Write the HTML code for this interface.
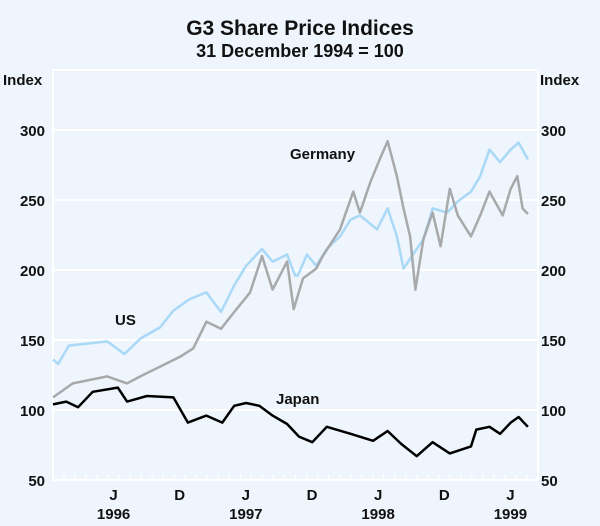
<!DOCTYPE html>
<html><head><meta charset="utf-8"><style>
body{margin:0;background:#eef5fc;}
svg{display:block;font-family:"Liberation Sans",sans-serif;}
</style></head><body>
<svg id="chart" width="600" height="526" viewBox="0 0 600 526">
<rect width="600" height="526" fill="#eef5fc"/>
<text x="300" y="35" text-anchor="middle" font-size="21" font-weight="bold" fill="#111">G3 Share Price Indices</text>
<text x="300" y="57" text-anchor="middle" font-size="18" font-weight="bold" fill="#111">31 December 1994 = 100</text>
<text x="3" y="85" font-size="15" font-weight="bold" fill="#111">Index</text>
<text x="540" y="85" font-size="15" font-weight="bold" fill="#111">Index</text>
<rect x="53" y="70" width="485" height="410" fill="#eef5fc" stroke="#fff" stroke-width="2"/>
<g id="grid"></g><g id="ticks"></g><g id="series"></g><g id="labels"></g>
<text x="290" y="159" font-size="15" font-weight="bold" fill="#111">Germany</text>
<text x="115" y="325" font-size="15" font-weight="bold" fill="#111">US</text>
<text x="276" y="404" font-size="15" font-weight="bold" fill="#111">Japan</text>
</svg>
<script>
const yTicks=[50,100,150,200,250,300];
const xLabels=[{t:1996.458,m:"J",y:"1996"},{t:1996.958,m:"D",y:""},{t:1997.458,m:"J",y:"1997"},{t:1997.958,m:"D",y:""},{t:1998.458,m:"J",y:"1998"},{t:1998.958,m:"D",y:""},{t:1999.458,m:"J",y:"1999"}];
const usDates=[1996.00,1996.04,1996.12,1996.41,1996.54,1996.66,1996.81,1996.91,1997.03,1997.16,1997.27,1997.37,1997.46,1997.58,1997.66,1997.77,1997.83,1997.85,1997.92,1997.99,1998.07,1998.17,1998.25,1998.32,1998.45,1998.53,1998.60,1998.65,1998.70,1998.80,1998.87,1998.98,1999.06,1999.16,1999.23,1999.30,1999.38,1999.46,1999.52,1999.59];
const usVals=[136,133,146,149,140,151,159,171,179,184,170,189,203,215,206,211,196,196,211,203,215,224,236,239,229,244,224,201,208,222,244,241,249,256,267,286,277,286,291,279];
const deDates=[1996.00,1996.15,1996.41,1996.56,1996.66,1996.81,1996.96,1997.06,1997.16,1997.27,1997.37,1997.49,1997.58,1997.66,1997.77,1997.82,1997.89,1997.99,1998.04,1998.17,1998.27,1998.32,1998.40,1998.47,1998.53,1998.60,1998.65,1998.70,1998.74,1998.80,1998.87,1998.93,1999.00,1999.06,1999.16,1999.23,1999.30,1999.40,1999.46,1999.51,1999.55,1999.59];
const deVals=[109,119,124,119,124,131,138,144,163,158,170,184,210,186,206,172,194,201,210,229,256,241,263,279,292,267,244,224,186,222,241,217,258,239,224,239,256,239,258,267,244,240];
const jpDates=[1996.00,1996.10,1996.19,1996.30,1996.49,1996.56,1996.71,1996.91,1997.02,1997.16,1997.28,1997.37,1997.46,1997.56,1997.66,1997.77,1997.86,1997.96,1998.07,1998.25,1998.42,1998.53,1998.63,1998.75,1998.87,1999.00,1999.16,1999.20,1999.30,1999.38,1999.46,1999.52,1999.59];
const jpVals=[104,106,102,113,116,106,110,109,91,96,91,103,105,103,96,90,81,77,88,83,78,85,76,67,77,69,74,86,88,83,91,95,88];
const NS="http://www.w3.org/2000/svg";
const X0=53,X1=538,T0=1996.0,T1=1999.6667,Y0=480,YV0=50,PX=1.4;
const xs=t=>X0+(t-T0)/(T1-T0)*(X1-X0);
const ys=v=>Y0-(v-YV0)*PX;
function mk(tag,attrs,parent){const e=document.createElementNS(NS,tag);for(const k in attrs)e.setAttribute(k,attrs[k]);document.getElementById(parent).appendChild(e);return e;}
yTicks.forEach(v=>{
  if(v>50){const l=mk("line",{x1:X0,x2:X1,y1:ys(v),y2:ys(v),stroke:"#fff","stroke-width":2},"grid");
  
  }
  const a=mk("text",{x:45,y:ys(v)+6,"text-anchor":"end","font-size":15,"font-weight":"bold",fill:"#111"},"labels");a.textContent=v;
  
  
  const b=mk("text",{x:541,y:ys(v)+6,"font-size":15,"font-weight":"bold",fill:"#111"},"labels");b.textContent=v;
  
  
});
for(let m=0;m<=44;m++){const t=T0+m/12;const x=xs(t);
  const tk=mk("line",{x1:x,x2:x,y1:Y0,y2:Y0-5,stroke:"#fff","stroke-width":1.5},"ticks");
  
  }
xLabels.forEach(o=>{
  const a=mk("text",{x:xs(o.t),y:500,"text-anchor":"middle","font-size":15,"font-weight":"bold",fill:"#111"},"labels");a.textContent=o.m;
  
  
  if(o.y){const b=mk("text",{x:xs(o.t),y:519,"text-anchor":"middle","font-size":15,"font-weight":"bold",fill:"#111"},"labels");b.textContent=o.y;
  
  }
});
function line(d,v,c,name){const p=mk("polyline",{points:d.map((t,i)=>xs(t).toFixed(1)+","+ys(v[i]).toFixed(1)).join(" "),fill:"none",stroke:c,"stroke-width":2.5,"stroke-linejoin":"round"},"series");
  
  }
line(usDates,usVals,"#a9d9f7","us-line");
line(deDates,deVals,"#a7a9ab","germany-line");
line(jpDates,jpVals,"#000","japan-line");
</script>
</body></html>
